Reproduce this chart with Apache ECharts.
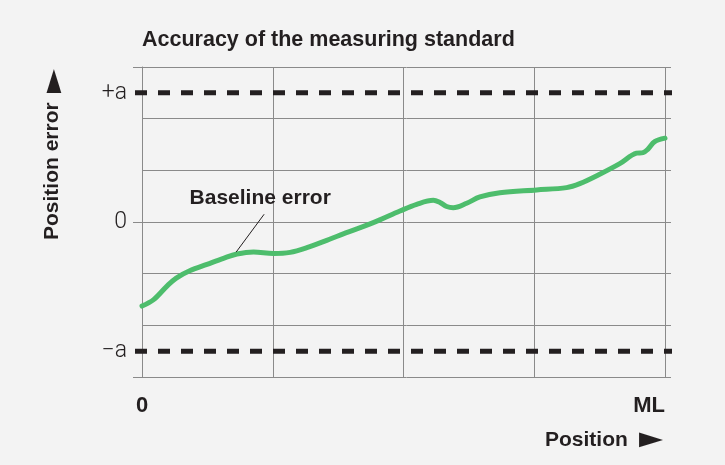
<!DOCTYPE html>
<html>
<head>
<meta charset="utf-8">
<script src="https://cdn.jsdelivr.net/npm/echarts@6/dist/echarts.min.js"></script>
<style>
html,body{margin:0;padding:0;background:#f3f3f3;}
#chart{width:725px;height:465px;}
</style>
</head>
<body>
<div id="chart"></div>
<script>
// ---- data (position in grid units 0..4 = 0..ML, error in units of a) ----
const positionX = [0, 0.089, 0.191, 0.262, 0.369, 0.497, 0.623, 0.726, 0.853, 1.005, 1.133, 1.261, 1.413, 1.515, 1.769, 1.973, 2.101, 2.228, 2.279, 2.330, 2.380, 2.483, 2.584, 2.737, 3.018, 3.247, 3.348, 3.501, 3.654, 3.782, 3.832, 3.870, 3.921, 4.0];
const errorY = [-0.651, -0.601, -0.496, -0.434, -0.376, -0.328, -0.281, -0.248, -0.232, -0.244, -0.235, -0.199, -0.142, -0.101, -0.005, 0.085, 0.137, 0.168, 0.151, 0.120, 0.111, 0.145, 0.194, 0.227, 0.248, 0.266, 0.297, 0.370, 0.452, 0.533, 0.537, 0.564, 0.622, 0.649];
const limitA = 1;
const yTickLabels = {'-1': '\u2212a', '0': '0', '1': '+a'};
const xTickLabels = {'0': '0', '4': 'ML'};
const titleText = 'Accuracy of the measuring standard';
const yName = 'Position error';
const xName = 'Position';
const arrowGlyph = '\u25BA';
const annotationText = 'Baseline error';
const annotationFrom = [0.72, -0.233];
const annotationTo = [0.934, 0.06];
const annotationLabelAt = [0.904, 0.188];

const curveData = positionX.map((x, i) => [x, errorY[i]]);

const FONT = "'Liberation Sans', Arial, sans-serif";
const GRIDC = '#8a8a8a';
const TXT = '#231f20';
const NAME_FONT = "bold 21px 'Liberation Sans', Arial, sans-serif";
const ARROW_FONT = "40px 'Liberation Sans', Arial, sans-serif";

const chart = echarts.init(document.getElementById('chart'), null, {renderer: 'canvas'});
chart.setOption({
  backgroundColor: '#f3f3f3',
  animation: false,
  title: {
    text: titleText, left: 142, top: 29, padding: 0,
    textStyle: {fontFamily: FONT, fontSize: 21.5, fontWeight: 'bold', color: TXT}
  },
  graphic: [
    {type: 'text', x: 52, y: 240, rotation: Math.PI / 2,
     style: {text: yName, font: NAME_FONT, fill: TXT, textAlign: 'left', textVerticalAlign: 'middle'}},
    {type: 'text', x: 54, y: 81, rotation: Math.PI / 2, scaleY: 0.62,
     style: {text: arrowGlyph, font: ARROW_FONT, fill: TXT, textAlign: 'center', textVerticalAlign: 'middle'}},
    {type: 'text', x: 545, y: 440,
     style: {text: xName, font: NAME_FONT, fill: TXT, textAlign: 'left', textVerticalAlign: 'middle'}},
    {type: 'text', x: 651, y: 440, scaleY: 0.62,
     style: {text: arrowGlyph, font: ARROW_FONT, fill: TXT, textAlign: 'center', textVerticalAlign: 'middle'}}
  ],
  grid: [
    {left: 142, right: 60, top: 67, bottom: 88},
    {left: 142, right: 54, top: 67, bottom: 88},
    {left: 135, right: 53, top: 67, bottom: 88}
  ],
  xAxis: [
    {gridIndex: 0, type: 'value', min: 0, max: 4, interval: 1,
     axisLine: {show: false},
     axisTick: {show: true, length: 10, lineStyle: {color: GRIDC, width: 1}},
     splitLine: {show: true, lineStyle: {color: GRIDC, width: 1}},
     axisLabel: {show: true, customValues: [0, 4], margin: 18, alignMaxLabel: 'right',
       formatter: v => xTickLabels[String(v)] || '',
       fontFamily: FONT, fontSize: 22, fontWeight: 'bold', color: TXT}},
    {gridIndex: 1, type: 'value', min: 0, max: 1,
     axisLine: {show: false}, axisTick: {show: false}, axisLabel: {show: false}, splitLine: {show: false}},
    {gridIndex: 2, type: 'value', min: 0, max: 1, show: false}
  ],
  yAxis: [
    {gridIndex: 0, type: 'value', min: -1.2, max: 1.2, interval: 0.4,
     axisLine: {show: true, lineStyle: {color: GRIDC, width: 1}},
     axisTick: {show: true, customValues: [-1.2, 0, 1.2], length: 9, lineStyle: {color: GRIDC, width: 1}},
     splitLine: {show: false},
     axisLabel: {show: true, customValues: [-1, 0, 1], margin: 15,
       formatter: v => yTickLabels[String(Math.round(v))] || '',
       fontFamily: "Roboto, 'Open Sans', 'Liberation Sans', sans-serif", fontWeight: 300, fontSize: 23, color: TXT}},
    {gridIndex: 1, type: 'value', min: -1.2, max: 1.2, interval: 0.4,
     axisLine: {show: false}, axisTick: {show: false}, axisLabel: {show: false},
     splitLine: {show: true, lineStyle: {color: GRIDC, width: 1}}},
    {gridIndex: 2, type: 'value', min: -1.2, max: 1.2, show: false}
  ],
  series: [
    {type: 'line', xAxisIndex: 2, yAxisIndex: 2, data: [[0, limitA], [1, limitA]], symbol: 'none', silent: true, z: 3,
     lineStyle: {color: TXT, width: 5, type: [12, 11], cap: 'butt'}},
    {type: 'line', xAxisIndex: 2, yAxisIndex: 2, data: [[0, -limitA], [1, -limitA]], symbol: 'none', silent: true, z: 3,
     lineStyle: {color: TXT, width: 5, type: [12, 11], cap: 'butt'}},
    {type: 'line', xAxisIndex: 0, yAxisIndex: 0, data: curveData, symbol: 'none', smooth: 0.35, z: 4,
     lineStyle: {color: '#4dbd6c', width: 5, cap: 'round', join: 'round'},
     markLine: {silent: true, symbol: ['none', 'none'], label: {show: false},
       lineStyle: {color: TXT, width: 1, type: 'solid'},
       data: [[{coord: annotationFrom}, {coord: annotationTo}]]},
     markPoint: {silent: true, symbol: 'circle', symbolSize: 1, itemStyle: {color: 'rgba(0,0,0,0)'},
       label: {show: true, position: 'inside', formatter: annotationText,
         fontFamily: FONT, fontSize: 21, fontWeight: 'bold', color: TXT},
       data: [{coord: annotationLabelAt}]}}
  ]
});
</script>
</body>
</html>
